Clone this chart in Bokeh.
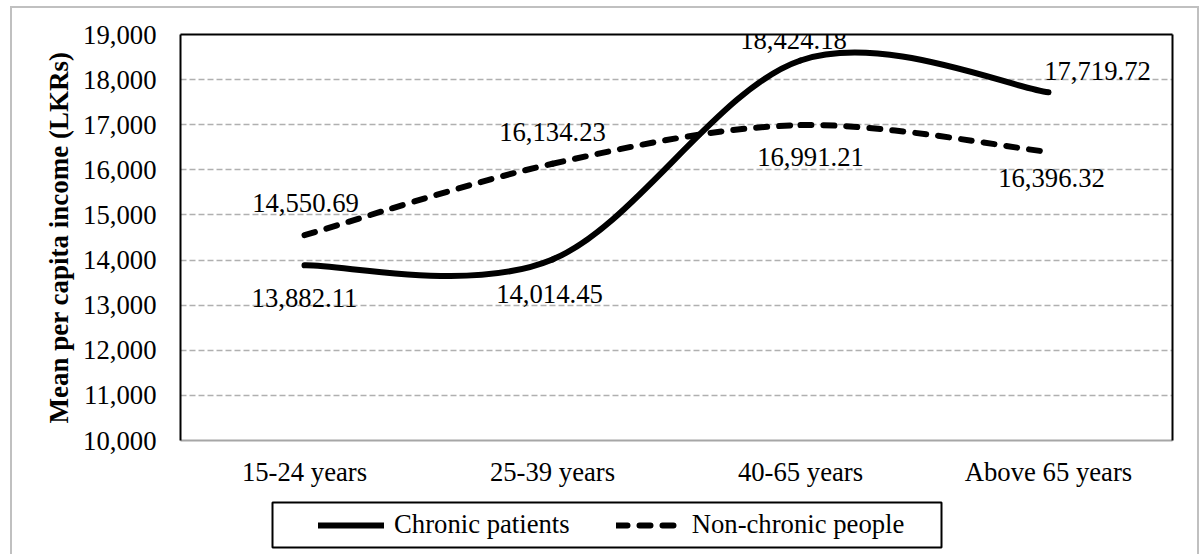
import numpy as np
from bokeh.plotting import figure
from bokeh.layouts import column
from bokeh.models import (ColumnDataSource, FixedTicker, NumeralTickFormatter, LinearAxis,
                          Range1d, Legend, LegendItem, LabelSet, BoxAnnotation)
from bokeh.core.properties import value
from bokeh.embed import file_html
from bokeh.resources import INLINE

# ---------------- data ----------------
categories = ["15-24 years", "25-39 years", "40-65 years", "Above 65 years"]
chronic = [13882.11, 14014.45, 18424.18, 17719.72]
non_chronic = [14550.69, 16134.23, 16991.21, 16396.32]
series_names = ["Chronic patients", "Non-chronic people"]
y_ticks = [10000, 11000, 12000, 13000, 14000, 15000, 16000, 17000, 18000, 19000]
y_axis_title = "Mean per capita income (LKRs)"

# data label offsets in screen pixels (x right, y up)
chronic_dx = [0, -3, -7, 49]
chronic_dy = [-33, -35, 20, 21]
non_dx = [1, 0, 10, 3]
non_dy = [32, 32, -32, -26]

FONT = "Liberation Serif"
FS = "26.7px"
FS_TITLE = "27px"

xpos = np.arange(len(categories), dtype=float)


def smooth_segments(xs, ys):
    """Excel-style smoothed line: cubic Bezier control points from neighbours."""
    xs = np.asarray(xs, float)
    ys = np.asarray(ys, float)
    xp = np.concatenate([[xs[0]], xs, [xs[-1]]])
    yp = np.concatenate([[ys[0]], ys, [ys[-1]]])
    d = {k: [] for k in ("x0", "y0", "x1", "y1", "cx0", "cy0", "cx1", "cy1")}
    for i in range(len(xs) - 1):
        p0 = (xp[i], yp[i])
        p1 = (xp[i + 1], yp[i + 1])
        p2 = (xp[i + 2], yp[i + 2])
        p3 = (xp[i + 3], yp[i + 3])
        d["x0"].append(p1[0]); d["y0"].append(p1[1])
        d["x1"].append(p2[0]); d["y1"].append(p2[1])
        d["cx0"].append(p1[0] + (p2[0] - p0[0]) / 6.0)
        d["cy0"].append(p1[1] + (p2[1] - p0[1]) / 6.0)
        d["cx1"].append(p2[0] - (p3[0] - p1[0]) / 6.0)
        d["cy1"].append(p2[1] - (p3[1] - p1[1]) / 6.0)
    return ColumnDataSource(d)


W = 1185
BL, BR = 168, 25           # left / right borders (same for both stacked plots)
FRAME_W = W - BL - BR      # 992

p = figure(width=W, height=486,
           x_range=Range1d(-0.5, 3.5), y_range=Range1d(10000, 19000),
           output_backend="svg", toolbar_location=None,
           min_border_left=BL, min_border_right=BR, min_border_top=26, min_border_bottom=54,
           background_fill_color="white", border_fill_color="white",
           outline_line_color=None)

# grid
p.xgrid.visible = False
p.ygrid.ticker = FixedTicker(ticks=y_ticks[1:-1])
p.ygrid.grid_line_color = "#b0b0b0"
p.ygrid.grid_line_width = 1.5
p.ygrid.grid_line_dash = "6 3"

# y axis
ya = p.yaxis[0]
ya.ticker = FixedTicker(ticks=y_ticks)
ya.formatter = NumeralTickFormatter(format="0,0")
ya.major_label_text_font = FONT
ya.major_label_text_font_size = FS
ya.major_label_text_color = "black"
ya.major_tick_line_color = None
ya.minor_tick_line_color = None
ya.major_tick_out = 0
ya.major_tick_in = 0
ya.axis_line_color = "black"
ya.axis_line_width = 2
ya.major_label_standoff = 24
ya.axis_label = y_axis_title
ya.axis_label_text_font = FONT
ya.axis_label_text_font_size = FS_TITLE
ya.axis_label_text_font_style = "bold"
ya.axis_label_text_color = "black"
ya.axis_label_standoff = 6

# x axis
xa = p.xaxis[0]
xa.ticker = FixedTicker(ticks=list(xpos))
xa.major_label_overrides = {int(i): c for i, c in enumerate(categories)}
xa.major_label_text_font = FONT
xa.major_label_text_font_size = FS
xa.major_label_text_color = "black"
xa.major_tick_line_color = None
xa.minor_tick_line_color = None
xa.major_tick_out = 0
xa.major_tick_in = 0
xa.axis_line_color = "#a6a6a6"
xa.axis_line_width = 2
xa.major_label_standoff = 16

# frame right and top borders
for side in ("right", "above"):
    ax = LinearAxis(ticker=FixedTicker(ticks=[]), axis_line_color="black", axis_line_width=2,
                    major_tick_line_color=None, minor_tick_line_color=None,
                    major_tick_out=0, major_tick_in=0, minor_tick_out=0,
                    major_label_text_font_size="0px")
    p.add_layout(ax, side)

# lines
src_c = smooth_segments(xpos, chronic)
src_n = smooth_segments(xpos, non_chronic)
line_c = dict(line_color="black", line_width=6, line_cap="round", line_join="round")
line_n = dict(line_color="black", line_width=6, line_cap="round", line_join="round", line_dash="11 12")
bz = dict(x0="x0", y0="y0", x1="x1", y1="y1", cx0="cx0", cy0="cy0", cx1="cx1", cy1="cy1")
p.bezier(source=src_c, **bz, **line_c)
p.bezier(source=src_n, **bz, **line_n)

# data labels
lab_src = ColumnDataSource(dict(
    x=list(xpos) + list(xpos),
    y=chronic + non_chronic,
    text=[f"{v:,.2f}" for v in chronic + non_chronic],
    dx=chronic_dx + non_dx,
    dy=chronic_dy + non_dy,
))
labels = LabelSet(x="x", y="y", text="text", x_offset="dx", y_offset="dy", source=lab_src,
                  text_align="center", text_baseline="middle",
                  text_font=value(FONT), text_font_size=value(FS), text_color="black")
p.add_layout(labels)

# ---------------- legend strip: a plot whose x/y units are pixels ----------------
LG_H = 60
LG_FRAME_H = 52
lg = figure(width=W, height=LG_H, x_range=Range1d(0, FRAME_W), y_range=Range1d(0, LG_FRAME_H),
            x_axis_type=None, y_axis_type=None,
            output_backend="svg", toolbar_location=None,
            min_border_left=BL, min_border_right=BR, min_border_top=4, min_border_bottom=4,
            background_fill_color="white", border_fill_color="white",
            outline_line_color=None)
lg.xgrid.visible = False
lg.ygrid.visible = False
box = BoxAnnotation(left=92, right=761, bottom=3, top=48,
                    fill_alpha=0, fill_color=None, line_color="black", line_width=2,
                    line_alpha=1)
lg.add_layout(box)
lr_c = lg.line(x=[np.nan], y=[np.nan], **line_c)
lr_n = lg.line(x=[np.nan], y=[np.nan], **line_n)
legend = Legend(items=[LegendItem(label=series_names[0], renderers=[lr_c]),
                       LegendItem(label=series_names[1], renderers=[lr_n])],
                orientation="horizontal", location=(138, 10),
                border_line_color=None, background_fill_alpha=0,
                padding=0, margin=0, spacing=46, glyph_width=66, glyph_height=30,
                label_standoff=10, label_text_font=FONT, label_text_font_size=FS,
                label_text_color="black")
lg.add_layout(legend, "center")

layout = column(p, lg, spacing=0,
                styles={"margin-left": "10px", "margin-top": "6px",
                        "border-top": "2px solid #c0c0c0", "border-left": "2px solid #c0c0c0",
                        "border-right": "2px solid #c0c0c0"})

open("out.html", "w").write(file_html(layout, INLINE))
